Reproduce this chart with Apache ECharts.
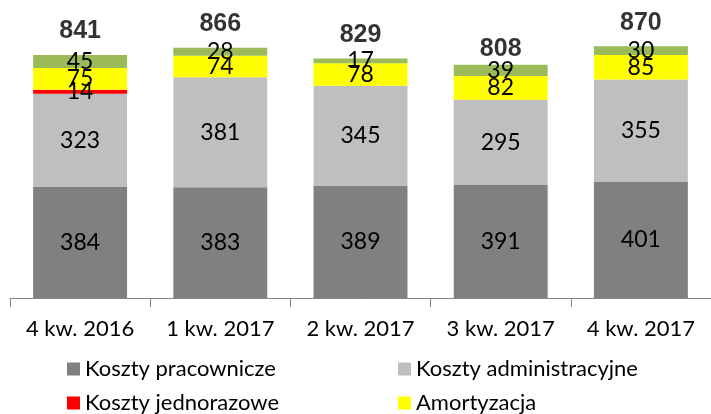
<!DOCTYPE html>
<html>
<head>
<meta charset="utf-8">
<script src="https://cdn.jsdelivr.net/npm/echarts@6/dist/echarts.min.js"></script>
<style>
  html, body { margin: 0; padding: 0; background: #fff; }
  #chart { width: 711px; height: 414px; }
</style>
</head>
<body>
<div id="chart"></div>
<script>
// kwartały
var categories = ['4 kw. 2016', '1 kw. 2017', '2 kw. 2017', '3 kw. 2017', '4 kw. 2017'];

// składniki kosztów (mln zł)
var kosztyPracownicze = [384, 383, 389, 391, 401];
var kosztyAdministracyjne = [323, 381, 345, 295, 355];
var kosztyJednorazowe = [14, 0, 0, 0, 0];
var amortyzacja = [75, 74, 78, 82, 85];
var pozostale = [45, 28, 17, 39, 30];

// sumy nad słupkami
var razem = [841, 866, 829, 808, 870];

var FONT = 'Lato';

var chart = echarts.init(document.getElementById('chart'), null, { renderer: 'canvas' });

var insideLabel = {
    show: true,
    position: 'inside',
    color: '#000',
    fontFamily: FONT,
    fontSize: 23,
    formatter: function (p) {
        return p.value ? String(p.value) : '';
    }
};

function barSeries(name, data, color) {
    return {
        name: name,
        type: 'bar',
        stack: 'koszty',
        barWidth: '67%',
        data: data,
        itemStyle: { color: color },
        label: insideLabel
    };
}

function legendAt(name, left, top) {
    return {
        data: [name],
        left: left,
        top: top,
        padding: 0,
        itemWidth: 13,
        itemHeight: 13,
        itemGap: 0,
        icon: 'rect',
        selectedMode: false,
        textStyle: { color: '#000', fontFamily: FONT, fontSize: 22 }
    };
}

var option = {
    animation: false,
    backgroundColor: '#fff',
    grid: {
        left: 10,
        top: 9,
        width: 706.25,
        bottom: 116
    },
    legend: [
        legendAt('Koszty pracownicze', 67, 358),
        legendAt('Koszty administracyjne', 398, 358),
        legendAt('Koszty jednorazowe', 67, 392),
        legendAt('Amortyzacja', 398, 392)
    ],
    xAxis: {
        type: 'category',
        data: categories,
        axisLine: { lineStyle: { color: '#868686', width: 1 } },
        axisTick: { show: true, interval: 0, length: 9, lineStyle: { color: '#868686' } },
        axisLabel: {
            interval: 0,
            color: '#000',
            fontFamily: FONT,
            fontSize: 22,
            margin: 20
        }
    },
    yAxis: {
        type: 'value',
        min: 0,
        max: 1000,
        show: false,
        splitLine: { show: false }
    },
    series: [
        barSeries('Koszty pracownicze', kosztyPracownicze, '#808080'),
        barSeries('Koszty administracyjne', kosztyAdministracyjne, '#bfbfbf'),
        barSeries('Koszty jednorazowe', kosztyJednorazowe, '#ff0000'),
        barSeries('Amortyzacja', amortyzacja, '#ffff00'),
        barSeries('Pozostałe', pozostale, '#9bbb59'),
        {
            name: 'Razem',
            type: 'scatter',
            symbolSize: 0,
            data: razem.map(function (v, i) {
                // etykieta 3 kw. 2017 leży bliżej słupka w oryginale
                return i === 3 ? { value: v, label: { distance: 3 } } : v;
            }),
            label: {
                show: true,
                position: 'top',
                distance: 11,
                color: '#000',
                fontFamily: 'Liberation Sans',
                fontWeight: 'bold',
                fontSize: 25
            },
            z: 10
        }
    ]
};

chart.setOption(option);
</script>
</body>
</html>
